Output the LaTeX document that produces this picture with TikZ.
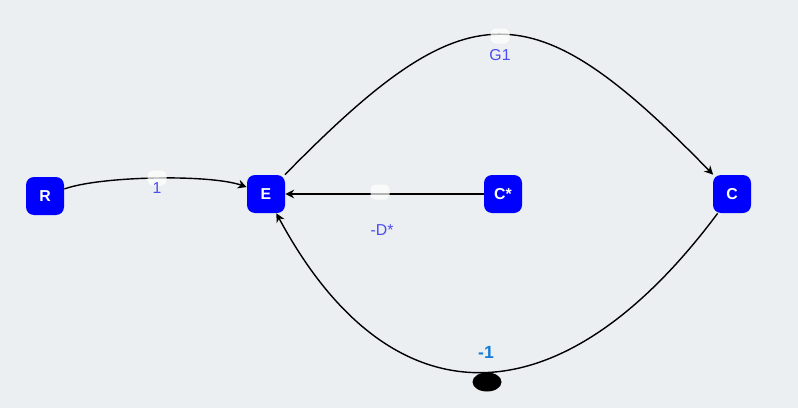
\documentclass[tikz,border=0pt]{standalone}
\usepackage{fontspec}
\setmainfont{Liberation Sans}
\usetikzlibrary{arrows.meta}
\definecolor{bgcol}{RGB}{236,239,241}
\definecolor{lblblue}{RGB}{75,75,240}
\definecolor{tickblue}{RGB}{20,125,215}
\tikzset{
    block/.style={draw=none, fill=blue, text=white, rounded corners=0.16cm,
        minimum size=0.76cm, inner sep=0pt, font=\fontsize{9}{10}\selectfont\bfseries},
    wire/.style={line width=0.8pt, -{Stealth[length=5pt,width=5pt]}},
    gap/.style={fill=white, opacity=0.7, rounded corners=0.1cm, minimum width=0.38cm, minimum height=0.3cm, inner sep=0pt},
    lbl/.style={text=lblblue, font=\fontsize{9}{10}\selectfont}
}
\begin{document}
\begin{tikzpicture}[scale=1.0]
            % Background
            \fill[bgcol] (0,0) rectangle (15.96,8.16);
            \useasboundingbox (0,0) rectangle (15.96,8.16);

            % Blocks
            \node[block] (R) at (0.90,4.24) {R};
            \node[block] (E) at (5.32,4.28) {E};
            \node[block] (Cs) at (10.06,4.28) {C*};
            \node[block] (C) at (14.64,4.28) {C};

            % R to E
            \draw[wire] (R) .. controls (2.00,4.64) and (4.20,4.68) .. (E);
            \node[gap] (g1) at (3.14,4.60) {};
            \node[lbl] (l1) at (3.14,4.40) {1};

            % E to C (upper arc)
            \draw[wire] (E) .. controls (9.36,8.40) and (10.62,8.40) .. (C);
            \node[gap] (g2) at (10.00,7.44) {};
            \node[lbl] (l2) at (10.00,7.06) {G1};

            % C* to E
            \draw[wire] (Cs) -- (E);
            \node[gap] (g3) at (7.60,4.32) {};
            \node[lbl] (l3) at (7.64,3.56) {-D*};

            % C back to E (lower arc)
            \draw[wire] (C) .. controls (11.20,-0.34) and (7.80,-0.34) .. (E);
            \node[text=tickblue, font=\fontsize{10}{11}\selectfont\bfseries] (l4) at (9.72,1.12) {-1};
            \fill[black] (9.74,0.52) ellipse (0.29 and 0.19);
        \end{tikzpicture}
\end{document}
